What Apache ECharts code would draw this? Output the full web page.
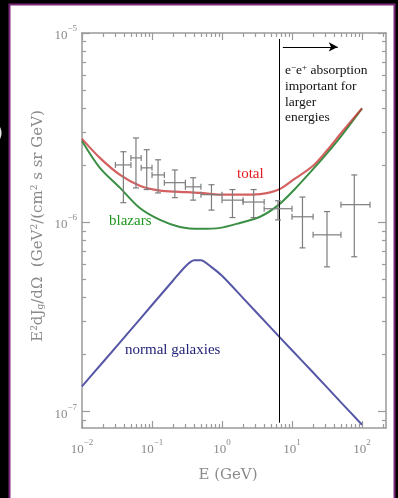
<!DOCTYPE html>
<html><head><meta charset="utf-8">
<script src="https://cdn.jsdelivr.net/npm/echarts@6/dist/echarts.min.js"></script>
<style>html,body{margin:0;padding:0;background:#000;}#c{width:398px;height:498px;}</style>
</head><body><div id="c"></div>
<script>
// ---- data ----
const totalE  = [0.01, 0.018, 0.035, 0.067, 0.13, 0.25, 0.49, 0.94, 1.8, 3.5, 6.5, 11, 20, 32, 52, 100];
const totalF  = [2.76e-6, 2.19e-6, 1.78e-6, 1.56e-6, 1.47e-6, 1.45e-6, 1.43e-6, 1.40e-6, 1.40e-6, 1.41e-6, 1.49e-6, 1.70e-6, 1.99e-6, 2.41e-6, 3.01e-6, 4.0e-6];
const blazarE = [0.01, 0.018, 0.035, 0.067, 0.13, 0.25, 0.49, 0.94, 1.8, 3.5, 6.5, 11, 20, 32, 52, 100];
const blazarF = [2.69e-6, 1.94e-6, 1.52e-6, 1.19e-6, 1.03e-6, 9.46e-7, 9.24e-7, 9.35e-7, 9.93e-7, 1.07e-6, 1.24e-6, 1.50e-6, 1.91e-6, 2.33e-6, 2.90e-6, 4.0e-6];
const galaxE  = [0.01, 0.02, 0.05, 0.1, 0.2, 0.3, 0.4, 0.5, 0.7, 1, 2, 5, 10, 20, 50, 100];
const galaxF  = [1.36e-7, 1.83e-7, 2.71e-7, 3.66e-7, 4.93e-7, 5.85e-7, 6.3e-7, 6.3e-7, 5.82e-7, 5.22e-7, 3.98e-7, 2.77e-7, 2.11e-7, 1.61e-7, 1.12e-7, 8.53e-8];

const dataE   = [0.039, 0.059, 0.084, 0.122, 0.212, 0.387, 0.707, 1.41, 2.83, 6.3, 14.1, 31.6, 77.5];
const dataElo = [0.03, 0.05, 0.07, 0.1, 0.15, 0.3, 0.5, 1, 2, 4, 10, 20, 50];
const dataEhi = [0.05, 0.07, 0.1, 0.15, 0.3, 0.5, 1, 2, 4, 10, 20, 50, 130];
const dataF   = [2.01e-6, 2.19e-6, 1.94e-6, 1.78e-6, 1.62e-6, 1.54e-6, 1.40e-6, 1.31e-6, 1.28e-6, 1.18e-6, 1.07e-6, 8.59e-7, 1.24e-6];
const dataFlo = [1.27e-6, 1.52e-6, 1.49e-6, 1.43e-6, 1.35e-6, 1.31e-6, 1.16e-6, 1.06e-6, 1.06e-6, 1.03e-6, 7.33e-7, 5.82e-7, 6.58e-7];
const dataFhi = [2.36e-6, 2.79e-6, 2.42e-6, 2.14e-6, 1.89e-6, 1.72e-6, 1.58e-6, 1.49e-6, 1.49e-6, 1.30e-6, 1.36e-6, 1.14e-6, 1.78e-6];

const absorptionE = 6.5;          // vertical line energy
const absorptionF = [9.3e-6, 8.75e-8];
const arrowE = [7.4, 45];
const arrowF = 8.44e-6;

const xRange = [0.01, 220];
const yRange = [8.2e-8, 1e-5];
const xTickExp = [-2, -1, 0, 1, 2];
const yTickExp = [-7, -6, -5];

// minor tick positions
const xMinor = [], yMinor = [];
for (let d = -2; d <= 2; d++) for (let m = 2; m <= 9; m++) { const v = m * Math.pow(10, d); if (v <= xRange[1]) xMinor.push(+v.toPrecision(3)); }
for (let d = -8; d <= -6; d++) for (let m = 2; m <= 9; m++) { const v = m * Math.pow(10, d); if (v >= yRange[0] && v <= yRange[1]) yMinor.push(+v.toPrecision(3)); }
const xMajor = xTickExp.map(e => Math.pow(10, e));
const yMajor = yTickExp.map(e => +Math.pow(10, e).toPrecision(3));

const gray = '#8a8a8a';
const serif = 'Liberation Serif';
const richLab = {
  b: { fontFamily: serif, fontSize: 13, color: gray, lineHeight: 18, verticalAlign: 'bottom' },
  s: { fontFamily: serif, fontSize: 9, color: gray, lineHeight: 8, verticalAlign: 'top' }
};
const fmt = v => { const p = Math.round(Math.log10(v)); return '{b|10}{s|' + (p < 0 ? '−' + (-p) : p) + '}'; };

function xAx(pos, ticks, len, main) {
  return {
    type: 'log', position: pos, min: xRange[0], max: xRange[1],
    axisLine: { show: main, lineStyle: { color: '#9a9a9a', width: 1.5 } },
    axisTick: { show: true, inside: true, length: len, customValues: ticks, lineStyle: { color: '#9a9a9a', width: 1.2 } },
    axisLabel: { show: main && pos === 'bottom', customValues: xMajor, margin: 10, formatter: fmt, rich: richLab },
    splitLine: { show: false }, minorTick: { show: false }
  };
}
function yAx(pos, ticks, len, main) {
  return {
    type: 'log', position: pos, min: yRange[0], max: yRange[1],
    axisLine: { show: main, lineStyle: { color: '#9a9a9a', width: 1.5 } },
    axisTick: { show: true, inside: true, length: len, customValues: ticks, lineStyle: { color: '#9a9a9a', width: 1.2 } },
    axisLabel: { show: main && pos === 'left', customValues: yMajor, margin: 5, formatter: fmt, rich: richLab },
    splitLine: { show: false }, minorTick: { show: false }
  };
}

const errData = dataE.map((e, i) => [e, dataF[i], dataElo[i], dataEhi[i], dataFlo[i], dataFhi[i]]);

const chart = echarts.init(document.getElementById('c'), null, { renderer: 'canvas' });
chart.setOption({
  animation: false,
  backgroundColor: '#000',
  grid: { left: 82, right: 12, top: 33, bottom: 70 },
  xAxis: [xAx('bottom', xMajor, 7, true), xAx('top', xMajor, 7, true), xAx('bottom', xMinor, 4, false), xAx('top', xMinor, 4, false)],
  yAxis: [yAx('left', yMajor, 8, true), yAx('right', yMajor, 8, true), yAx('left', yMinor, 4, false), yAx('right', yMinor, 4, false)],
  graphic: [
    { type: 'rect', z: -100, shape: { x: 9.5, y: 4.5, width: 385, height: 500 }, style: { fill: '#fff', stroke: '#7b2a7b', lineWidth: 2 } },
    { type: 'text', x: -4, y: 125, style: { text: ')', fill: '#e8e8e8', font: '18px DejaVu Sans' } },
    { type: 'text', x: 237, y: 174, style: { text: 'total', fill: '#e51c1c', font: '15px "Liberation Serif"', verticalAlign: 'middle' } },
    { type: 'text', x: 109, y: 221, style: { text: 'blazars', fill: '#1f951f', font: '15px "Liberation Serif"', verticalAlign: 'middle' } },
    { type: 'text', x: 125, y: 350, style: { text: 'normal galaxies', fill: '#24247a', font: '15px "Liberation Serif"', verticalAlign: 'middle' } },
    { type: 'text', x: 285, y: 70, style: { text: 'e{sp|−}e{sp|+} absorption', fill: '#111', font: '13.5px "Liberation Serif"', verticalAlign: 'middle',
        rich: { sp: { fontFamily: serif, fontSize: 9, fill: '#111', verticalAlign: 'top', lineHeight: 10 } } } },
    { type: 'text', x: 285, y: 86, style: { text: 'important for', fill: '#111', font: '13.5px "Liberation Serif"', verticalAlign: 'middle' } },
    { type: 'text', x: 285, y: 102, style: { text: 'larger', fill: '#111', font: '13.5px "Liberation Serif"', verticalAlign: 'middle' } },
    { type: 'text', x: 285, y: 117, style: { text: 'energies', fill: '#111', font: '13.5px "Liberation Serif"', verticalAlign: 'middle' } },
    { type: 'text', x: 228, y: 475, style: { text: 'E (GeV)', fill: gray, font: '15px "DejaVu Serif"', align: 'center', verticalAlign: 'middle' } },
    { type: 'text', x: 38, y: 226, rotation: Math.PI / 2,
      style: { text: 'E{sp|2}dJ{sb|g}/dΩ  (GeV{sp|2}/(cm{sp|2} s sr GeV)', fill: gray, font: '15px "DejaVu Serif"', align: 'center', verticalAlign: 'middle',
        rich: { sp: { fontFamily: 'DejaVu Serif', fontSize: 9, fill: gray, verticalAlign: 'top', lineHeight: 10 },
                sb: { fontFamily: 'DejaVu Serif', fontSize: 9, fill: gray, verticalAlign: 'bottom', lineHeight: 10 } } } }
  ],
  series: [
    { name: 'blazars', type: 'line', data: blazarE.map((e, i) => [e, blazarF[i]]), showSymbol: false, smooth: 0.3, z: 3,
      lineStyle: { color: '#3b8f45', width: 2 },
      markLine: { silent: true, animation: false, label: { show: false }, symbol: ['none', 'none'],
        lineStyle: { color: '#000', width: 1, type: 'solid' },
        data: [
          [{ coord: [absorptionE, absorptionF[0]] }, { coord: [absorptionE, absorptionF[1]] }],
          [{ coord: [arrowE[0], arrowF], symbol: 'none' }, { coord: [arrowE[1], arrowF], symbol: 'arrow', symbolSize: [7, 9] }]
        ] } },
    { name: 'total', type: 'line', data: totalE.map((e, i) => [e, totalF[i]]), showSymbol: false, smooth: 0.3, z: 4,
      lineStyle: { color: '#c83a3a', width: 2.2, opacity: 0.8 } },
    { name: 'normal galaxies', type: 'line', data: galaxE.map((e, i) => [e, galaxF[i]]), showSymbol: false, smooth: 0.25, z: 3,
      lineStyle: { color: '#5656a6', width: 2 } },
    { name: 'EGRET', type: 'custom', data: errData, z: 5,
      renderItem: (params, api) => {
        const e = api.value(0), f = api.value(1), elo = api.value(2), ehi = api.value(3), flo = api.value(4), fhi = api.value(5);
        const l = api.coord([elo, f]), r = api.coord([ehi, f]);
        const t = api.coord([e, fhi]), b = api.coord([e, flo]);
        const c = 3;
        const st = { stroke: '#7d7d7d', lineWidth: 1.2 };
        const L = (x1, y1, x2, y2) => ({ type: 'line', shape: { x1, y1, x2, y2 }, style: st });
        return { type: 'group', children: [
          L(l[0], l[1], r[0], r[1]), L(t[0], t[1], b[0], b[1]),
          L(t[0] - c, t[1], t[0] + c, t[1]), L(b[0] - c, b[1], b[0] + c, b[1]),
          L(l[0], l[1] - c, l[0], l[1] + c), L(r[0], r[1] - c, r[0], r[1] + c)
        ] };
      } }
  ]
});
</script></body></html>
